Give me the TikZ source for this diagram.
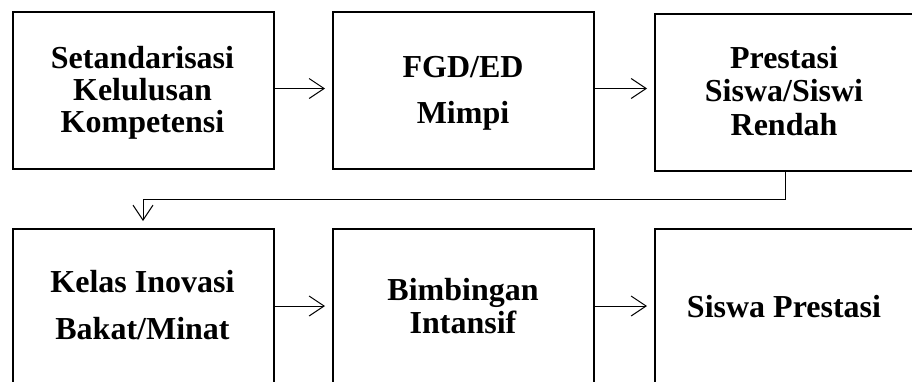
\documentclass[tikz,border=0pt]{standalone}
\usepackage{fontspec}
\setmainfont{Liberation Serif}
\usetikzlibrary{arrows.meta}
\tikzset{
  box/.style={draw=black, line width=2pt, minimum width=261pt, minimum height=157pt, inner sep=0pt, anchor=north west},
  lbl/.style={font=\bfseries\fontsize{32}{32}\selectfont, align=center, anchor=base, inner sep=0pt},
  arr/.style={line width=1pt, -{Straight Barb[length=15pt,width=20pt,line width=1pt]}, shorten >=7pt}
}
\begin{document}
\begin{tikzpicture}[x=1pt,y=-1pt]
\useasboundingbox (0,0) rectangle (912,381);
\clip (0,0) rectangle (912,381);
\node[box] (b1) at (12,11) {};
\node[box] (b2) at (332,11) {};
\node[box] (b3) at (654,13) {};
\node[box] (b4) at (12,228) {};
\node[box] (b5) at (332,228) {};
\node[box] (b6) at (654,228) {};
\node[lbl, font=\bfseries\fontsize{32}{32}\selectfont] (t1) at (142.5,132) {Setandarisasi\\Kelulusan\\Kompetensi};
\node[lbl, font=\bfseries\fontsize{32}{46}\selectfont] (t2) at (463,123) {FGD/ED\\Mimpi};
\node[lbl, font=\bfseries\fontsize{32}{33.5}\selectfont] (t3) at (784,135) {Prestasi\\Siswa/Siswi\\Rendah};
\node[lbl, font=\bfseries\fontsize{32}{47}\selectfont] (t4) at (142.5,339) {Kelas Inovasi\\Bakat/Minat};
\node[lbl, font=\bfseries\fontsize{32}{33}\selectfont] (t5) at (463,333) {Bimbingan\\Intansif};
\node[lbl] (t6) at (784,317) {Siswa Prestasi};
\coordinate (r1) at (0,88.5);
\coordinate (r2) at (0,306);
\coordinate (turn) at (0,199);
\coordinate (drop) at (143,0);
\draw[arr] (b1.east |- r1) -- (b2.west |- r1);
\draw[arr] (b2.east |- r1) -- (b3.west |- r1);
\draw[arr] (785,170) coordinate (s3) -- (s3 |- turn) -- (drop |- turn) -- (drop |- b4.north);
\draw[arr] (b4.east |- r2) -- (b5.west |- r2);
\draw[arr] (b5.east |- r2) -- (b6.west |- r2);
\end{tikzpicture}
\end{document}
